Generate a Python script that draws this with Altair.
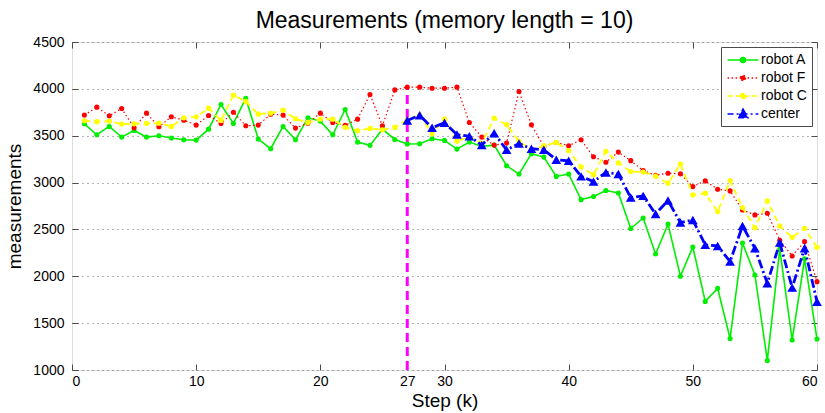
import altair as alt
import pandas as pd

# ---------------- data ----------------
steps = list(range(1, 61))
robot_a = [3627, 3510, 3599, 3485, 3556, 3485, 3500, 3475, 3457, 3453,
           3570, 3833, 3631, 3900, 3464, 3361, 3599, 3457, 3691, 3656,
           3510, 3780, 3432, 3397, 3570, 3460, 3411, 3414, 3467, 3450,
           3357, 3432, 3386, 3400, 3180, 3091, 3308, 3272, 3066, 3091,
           2818, 2852, 2915, 2888, 2510, 2622, 2238, 2557, 2000, 2313,
           1732, 1871, 1336, 2355, 2014, 1102, 2290, 1320, 2187, 1330]
robot_f = [3720, 3805, 3712, 3790, 3585, 3741, 3595, 3702, 3666, 3613,
           3716, 3631, 3751, 3606, 3613, 3730, 3720, 3581, 3634, 3741,
           3641, 3610, 3677, 3940, 3606, 3989, 4018, 4018, 4007, 4007,
           4018, 3641, 3485, 3400, 3421, 3972, 3616, 3386, 3428, 3393,
           3457, 3275, 3217, 3325, 3234, 3128, 3078, 3100, 3093, 2957,
           3018, 2929, 2911, 2708, 2655, 2672, 2385, 2217, 2370, 1943]
robot_c = [3659, 3649, 3656, 3624, 3627, 3631, 3634, 3599, 3691, 3702,
           3794, 3663, 3933, 3865, 3730, 3741, 3773, 3680, 3641, 3677,
           3677, 3588, 3553, 3578, 3563, 3588, 3670, 3723, 3521, 3677,
           3440, 3490, 3420, 3687, 3617, 3439, 3350, 3393, 3428, 3340,
           3166, 3083, 3333, 3210, 3117, 3112, 3068, 2993, 3196, 2868,
           2886, 2690, 3021, 2733, 2519, 2804, 2537, 2416, 2512, 2309]
center_steps = list(range(27, 61))
center = [3663, 3718, 3585, 3638, 3512, 3494, 3400, 3527, 3349, 3416,
          3361, 3350, 3244, 3233, 3066, 3010, 3108, 3092, 2840, 2858,
          2665, 2808, 2573, 2601, 2335, 2324, 2157, 2537, 2299, 1925,
          2359, 1879, 2299, 1729]

x_ticks = [0, 10, 20, 27, 30, 40, 50, 60]
y_ticks = [1000, 1500, 2000, 2500, 3000, 3500, 4000, 4500]
memory_step = 27
divider_low, divider_high = 1000, 4020
series_names = ["robot A", "robot F", "robot C", "center"]

# ---------------- style ----------------
W, H = 745, 328
FONT = "Liberation Sans"
FRAME = "#4a4a4a"
styles = {
    "robot A": dict(color="#00ee00", dash=None, width=1.6, shape="circle", size=26),
    "robot F": dict(color="#ff0000", dash=[1.5, 2.5], width=1.2, shape="circle", size=26),
    "robot C": dict(color="#ffff00", dash=[6, 4], width=1.8, shape="circle", size=28),
    "center": dict(color="#0000ff", dash=[9, 3, 2, 3], width=2.8, shape="triangle-up", size=95),
}
legend_paths = [
    "M-2.2,0L2.2,0M0.36,0A0.36,0.36,0,1,1,-0.36,0A0.36,0.36,0,1,1,0.36,0Z",
    "M-2.2,0L2.2,0M0.36,0A0.36,0.36,0,1,1,-0.36,0A0.36,0.36,0,1,1,0.36,0Z",
    "M-2.2,0L2.2,0M0.36,0A0.36,0.36,0,1,1,-0.36,0A0.36,0.36,0,1,1,0.36,0Z",
    "M-2.2,0L2.2,0M0,-0.7L0.72,0.55L-0.72,0.55Z",
]
legend_dashes = [[1, 0], [1.5, 2.5], [5, 3], [6, 3, 2, 3]]

x_scale = alt.Scale(domain=[0, 60], nice=False, zero=False)
y_scale = alt.Scale(domain=[1000, 4500], nice=False, zero=False)

ax_x_main = alt.Axis(orient="bottom", values=x_ticks, title="Step (k)", ticks=False, tickSize=0,
                     domain=False, grid=False, labelPadding=4, titlePadding=3, format="d",
                     labelFontSize=14, titleFontSize=19, titleFontWeight="normal")
ax_y_main = alt.Axis(orient="left", values=y_ticks, title="measurements", ticks=False, tickSize=0,
                     domain=False, grid=True, gridDash=[1, 4], gridColor="#666666", gridWidth=1,
                     labelPadding=8, titlePadding=8, format="d", labelFontSize=14, titleFontSize=19,
                     titleFontWeight="normal")
ax_x_in_bottom = alt.Axis(orient="top", offset=-H, values=x_ticks, labels=False, domain=False,
                          grid=False, title=None, tickSize=6, tickColor=FRAME)
ax_x_in_top = alt.Axis(orient="bottom", offset=-H, values=x_ticks, labels=False, domain=False,
                       grid=False, title=None, tickSize=6, tickColor=FRAME)
ax_y_in_left = alt.Axis(orient="right", offset=-W, values=y_ticks, labels=False, domain=False,
                        grid=False, title=None, tickSize=6, tickColor=FRAME)
ax_y_in_right = alt.Axis(orient="left", offset=-W, values=y_ticks, labels=False, domain=False,
                         grid=False, title=None, tickSize=6, tickColor=FRAME)

# ---------------- layers ----------------
div_df = pd.DataFrame({"k": [memory_step], "lo": [divider_low], "hi": [divider_high]})
divider = alt.Chart(div_df).mark_rule(color="#ff00ff", strokeWidth=3, strokeDash=[9, 5]).encode(
    x=alt.X("k:Q", scale=x_scale, axis=ax_x_main),
    y=alt.Y("lo:Q", scale=y_scale, axis=ax_y_main),
    y2="hi:Q",
)

series_data = {
    "robot A": (steps, robot_a),
    "robot F": (steps, robot_f),
    "robot C": (steps, robot_c),
    "center": (center_steps, center),
}

layers = [divider]
for i, name in enumerate(series_names):
    ks, vals = series_data[name]
    df = pd.DataFrame({"k": ks, "value": vals})
    st = styles[name]
    if i == 0:
        lx, ly = ax_x_in_bottom, ax_y_in_left
        px, py = ax_x_in_top, ax_y_in_right
    else:
        lx = ly = px = py = None
    line_kw = dict(color=st["color"], strokeWidth=st["width"])
    if st["dash"] is not None:
        line_kw["strokeDash"] = st["dash"]
    line = alt.Chart(df).mark_line(**line_kw).encode(
        x=alt.X("k:Q", scale=x_scale, axis=lx),
        y=alt.Y("value:Q", scale=y_scale, axis=ly),
    )
    pts = alt.Chart(df).mark_point(filled=True, opacity=1, color=st["color"], shape=st["shape"],
                                   size=st["size"]).encode(
        x=alt.X("k:Q", scale=x_scale, axis=px),
        y=alt.Y("value:Q", scale=y_scale, axis=py),
    )
    layers += [line, pts]

leg = alt.Legend(
    title=None, orient="none", legendX=649, legendY=5, padding=5,
    strokeColor=FRAME, fillColor="white", cornerRadius=0,
    labelFont=FONT, labelFontSize=14, labelColor="black",
    symbolSize=196, symbolStrokeWidth=1.5, symbolOffset=9, labelOffset=10, rowPadding=3,
)
leg_df = pd.DataFrame({"series": series_names})
colors = [styles[n]["color"] for n in series_names]
legend_layer = alt.Chart(leg_df).transform_filter("false").mark_point(
    filled=True, opacity=1, strokeWidth=1.5).encode(
    fill=alt.Fill("series:N", scale=alt.Scale(domain=series_names, range=colors), legend=leg),
    stroke=alt.Stroke("series:N", scale=alt.Scale(domain=series_names, range=colors), legend=leg),
    shape=alt.Shape("series:N", scale=alt.Scale(domain=series_names, range=legend_paths), legend=leg),
    strokeDash=alt.StrokeDash("series:N", scale=alt.Scale(domain=series_names, range=legend_dashes),
                              legend=leg),
)
layers.append(legend_layer)

chart = alt.layer(*layers).resolve_axis(x="independent", y="independent").properties(
    width=W, height=H,
    autosize=alt.AutoSizeParams(type="none"),
    padding={"left": 72, "top": 42, "right": 8, "bottom": 43},
    title=alt.TitleParams("Measurements (memory length = 10)", font=FONT, fontSize=23,
                          fontWeight="normal", color="black", anchor="middle", offset=2),
).configure_view(stroke=FRAME, strokeWidth=1).configure_axis(
    labelFont=FONT, titleFont=FONT, labelColor="black", titleColor="black", titleFontWeight="normal",
).configure(background="white")

chart.save("out.html", embed_options={"renderer": "svg", "actions": False})
